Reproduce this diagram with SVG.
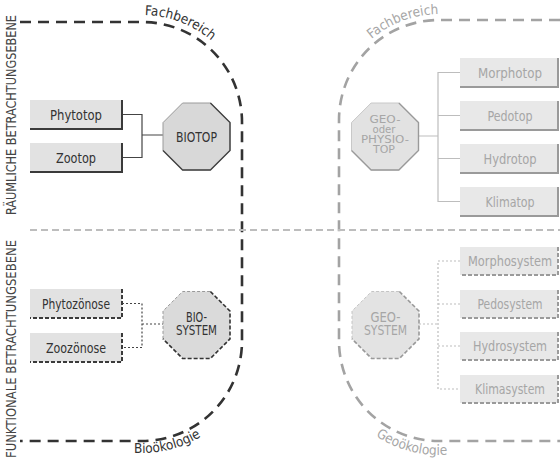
<svg xmlns="http://www.w3.org/2000/svg" xmlns:xlink="http://www.w3.org/1999/xlink" width="560" height="462" viewBox="0 0 560 462">
<style>
text{font-family:"Liberation Sans Narrow","DejaVu Sans Condensed","Liberation Sans",sans-serif;text-anchor:middle}
.lbl{font-size:14px}
.sm{font-size:11px}
.dk{fill:#333}
.lt{fill:#a6a6a6}
.bdk{stroke:#333;stroke-width:2.6;stroke-dasharray:11 7;fill:none}
.blt{stroke:#a3a3a3;stroke-width:2.6;stroke-dasharray:11 7;fill:none}
.boxd{fill:#e2e2e2}
.boxl{fill:#e8e8e8}
.shd{fill:none;stroke:#3a3a3a;stroke-width:2}
.shl{fill:none;stroke:#9a9a9a;stroke-width:2}
.dsh{stroke-dasharray:4 2}
.cd{fill:none;stroke:#444;stroke-width:1.2}
.cl{fill:none;stroke:#bdbdbd;stroke-width:1.2}
.dot{stroke-dasharray:2 2}
.curv{font-size:13.5px;text-anchor:start}
.vert{font-size:13.5px;fill:#444}
</style>
<defs>
<path id="oct" d="M-13.9,-33.5 H13.9 L33.5,-13.9 V13.9 L13.9,33.5 H-13.9 L-33.5,13.9 V-13.9 Z"/>
<path id="octsh" d="M13.9,-33.5 L33.5,-13.9 V13.9 L13.9,33.5 H-13.9 L-33.5,13.9"/>
<path id="octhl" d="M-33.5,13.9 V-13.9 L-13.9,-33.5 H13.9"/>
<path id="pFachL" d="M100,15 H142 A107,107 0 0 1 249,122"/>
<path id="pFachR" d="M334,120 A106,106 0 0 1 440,14 H520"/>
<path id="pBio" d="M100,453 H142 A113,113 0 0 0 255,340"/>
<path id="pGeo" d="M325,341 A114,114 0 0 0 438,455 H520"/>
</defs>

<g id="boundaries">
<path class="bdk" d="M20,22 H142 A100,100 0 0 1 242,122 V340 A100,100 0 0 1 142,441 H20"/>
<path class="blt" d="M560,20 H440 A100,100 0 0 0 339,120 V341 A100,100 0 0 0 438,441 H560"/>
<line x1="30" y1="230" x2="560" y2="230" stroke="#bdbdbd" stroke-width="2" stroke-dasharray="7 4"/>
</g>

<g id="labels">
<text class="curv dk"><textPath xlink:href="#pFachL" startOffset="45">Fachbereich</textPath></text>
<text class="curv lt"><textPath xlink:href="#pFachR" startOffset="92">Fachbereich</textPath></text>
<text class="curv dk"><textPath xlink:href="#pBio" startOffset="34">Bioökologie</textPath></text>
<text class="curv lt"><textPath xlink:href="#pGeo" startOffset="112">Geoökologie</textPath></text>
<text class="vert" transform="translate(16,115) rotate(-90)" textLength="200" lengthAdjust="spacingAndGlyphs">RÄUMLICHE BETRACHTUNGSEBENE</text>
<text class="vert" transform="translate(16,349) rotate(-90)" textLength="218" lengthAdjust="spacingAndGlyphs">FUNKTIONALE BETRACHTUNGSEBENE</text>
</g>

<g id="connectors">
<path class="cd" d="M122,114.5 H142 V157.5 H122 M142,135 H163"/>
<path class="cl" d="M418,136 H438 M460,72.5 H438 V201.5 H460 M438,115.5 H460 M438,158.5 H460"/>
<path class="cd dot" d="M122,303.5 H142 V347.5 H122 M142,324 H163"/>
<path class="cl dot" d="M419,324 H438 M460,261 H438 V389 H460 M438,304 H460 M438,346 H460"/>
</g>

<g id="phytotop"><rect class="boxd" x="30" y="100" width="92" height="29"/><path class="shd" d="M122,100 V129 H30"/><text class="lbl dk" x="76" y="119.5" textLength="52" lengthAdjust="spacingAndGlyphs">Phytotop</text></g>
<g id="zootop"><rect class="boxd" x="30" y="143" width="92" height="29"/><path class="shd" d="M122,143 V172 H30"/><text class="lbl dk" x="76" y="162.5" textLength="40" lengthAdjust="spacingAndGlyphs">Zootop</text></g>
<g id="biotop" transform="translate(196.5,136.5)"><use href="#oct" fill="#d8d8d8" stroke="#9a9a9a" stroke-width="1"/><use href="#octsh" fill="none" stroke="#444" stroke-width="1.4"/><text class="lbl dk" x="0" y="5" textLength="41" lengthAdjust="spacingAndGlyphs">BIOTOP</text></g>

<g id="geotop" transform="translate(385,136.5)"><use href="#oct" fill="#e2e2e2" stroke="#c8c8c8" stroke-width="1"/><use href="#octsh" fill="none" stroke="#9a9a9a" stroke-width="1.4"/>
<text class="sm lt" x="0" y="-14" textLength="31" lengthAdjust="spacingAndGlyphs">GEO-</text>
<text class="sm lt" x="-1" y="-4" textLength="23" lengthAdjust="spacingAndGlyphs">oder</text>
<text class="sm lt" x="0" y="6" textLength="48" lengthAdjust="spacingAndGlyphs">PHYSIO-</text>
<text class="sm lt" x="-1" y="16" textLength="22" lengthAdjust="spacingAndGlyphs">TOP</text></g>
<g id="morphotop"><rect class="boxl" x="460" y="58" width="98" height="29"/><path class="shl" d="M558,58 V87 H460"/><text class="lbl lt" x="510" y="77.5" textLength="64" lengthAdjust="spacingAndGlyphs">Morphotop</text></g>
<g id="pedotop"><rect class="boxl" x="460" y="101" width="98" height="29"/><path class="shl" d="M558,101 V130 H460"/><text class="lbl lt" x="510" y="120.5" textLength="45" lengthAdjust="spacingAndGlyphs">Pedotop</text></g>
<g id="hydrotop"><rect class="boxl" x="460" y="144" width="98" height="29"/><path class="shl" d="M558,144 V173 H460"/><text class="lbl lt" x="510" y="163.5" textLength="53" lengthAdjust="spacingAndGlyphs">Hydrotop</text></g>
<g id="klimatop"><rect class="boxl" x="460" y="187" width="98" height="29"/><path class="shl" d="M558,187 V216 H460"/><text class="lbl lt" x="510" y="206.5" textLength="49" lengthAdjust="spacingAndGlyphs">Klimatop</text></g>

<g id="phytozoenose"><rect class="boxd" x="30" y="289" width="92" height="29"/><path class="shd dsh" d="M122,289 V318 H30"/><text class="lbl dk" x="76" y="308.5" textLength="68" lengthAdjust="spacingAndGlyphs">Phytozönose</text></g>
<g id="zoozoenose"><rect class="boxd" x="30" y="333" width="92" height="29"/><path class="shd dsh" d="M122,333 V362 H30"/><text class="lbl dk" x="76" y="352.5" textLength="60" lengthAdjust="spacingAndGlyphs">Zoozönose</text></g>
<g id="biosystem" transform="translate(196.5,325)"><use href="#oct" fill="#dadada"/><use href="#octhl" fill="none" stroke="#999" stroke-width="1" stroke-dasharray="3 2"/><use href="#octsh" fill="none" stroke="#333" stroke-width="1.6" stroke-dasharray="4 2"/>
<text class="lbl dk" x="0" y="-3" textLength="21" lengthAdjust="spacingAndGlyphs">BIO-</text>
<text class="lbl dk" x="0" y="10" textLength="41" lengthAdjust="spacingAndGlyphs">SYSTEM</text></g>

<g id="geosystem" transform="translate(385.5,325)"><use href="#oct" fill="#e3e3e3"/><use href="#octhl" fill="none" stroke="#c4c4c4" stroke-width="1" stroke-dasharray="3 2"/><use href="#octsh" fill="none" stroke="#999" stroke-width="1.6" stroke-dasharray="4 2"/>
<text class="lbl lt" x="0" y="-3" textLength="30" lengthAdjust="spacingAndGlyphs">GEO-</text>
<text class="lbl lt" x="0" y="10" textLength="43" lengthAdjust="spacingAndGlyphs">SYSTEM</text></g>
<g id="morphosystem"><rect class="boxl" x="460" y="247" width="98" height="28"/><path class="shl dsh" d="M558,247 V275 H460"/><text class="lbl lt" x="510" y="266" textLength="84" lengthAdjust="spacingAndGlyphs">Morphosystem</text></g>
<g id="pedosystem"><rect class="boxl" x="460" y="290" width="98" height="28"/><path class="shl dsh" d="M558,290 V318 H460"/><text class="lbl lt" x="510" y="309" textLength="65" lengthAdjust="spacingAndGlyphs">Pedosystem</text></g>
<g id="hydrosystem"><rect class="boxl" x="460" y="332" width="98" height="28"/><path class="shl dsh" d="M558,332 V360 H460"/><text class="lbl lt" x="510" y="351" textLength="74" lengthAdjust="spacingAndGlyphs">Hydrosystem</text></g>
<g id="klimasystem"><rect class="boxl" x="460" y="375" width="98" height="28"/><path class="shl dsh" d="M558,375 V403 H460"/><text class="lbl lt" x="510" y="394" textLength="70" lengthAdjust="spacingAndGlyphs">Klimasystem</text></g>
</svg>
